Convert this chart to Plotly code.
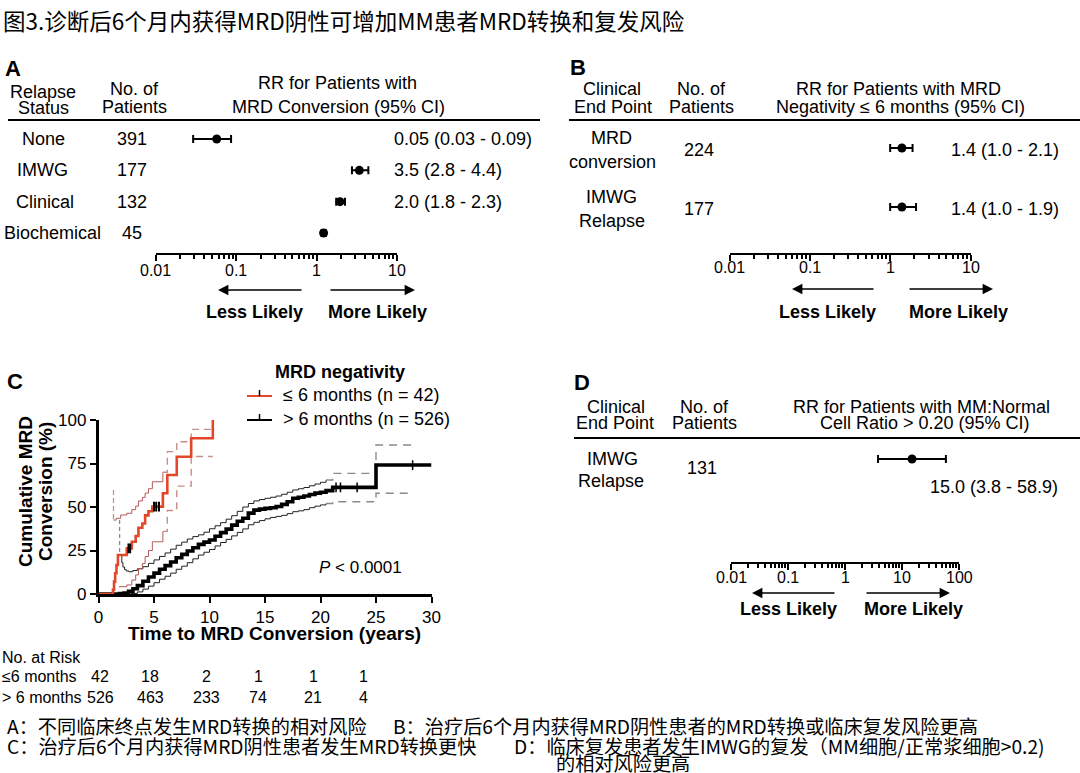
import math
import plotly.graph_objects as go

W, H = 1080, 773
FONT = "Liberation Sans, Arial, Helvetica, sans-serif"
CJK = "Noto Sans CJK SC, Noto Sans, sans-serif"

# ---------------- data ----------------
# Panel A: relapse status vs RR for MRD conversion
a_status = ["None", "IMWG", "Clinical", "Biochemical"]
a_n = [391, 177, 132, 45]
a_rr = [0.057, 3.4, 1.95, 1.22]
a_lo = [0.029, 2.75, 1.75, 1.15]
a_hi = [0.086, 4.4, 2.25, 1.30]
a_text = ["0.05 (0.03 - 0.09)", "3.5 (2.8 - 4.4)", "2.0 (1.8 - 2.3)", ""]

# Panel B: clinical end point, RR for MRD negativity <= 6 months
b_end = [["MRD", "conversion"], ["IMWG", "Relapse"]]
b_n = [224, 177]
b_rr = [1.4, 1.4]
b_lo = [1.0, 1.0]
b_hi = [1.9, 2.1]
b_text = ["1.4 (1.0 - 2.1)", "1.4 (1.0 - 1.9)"]

# Panel D: MM:Normal cell ratio > 0.20
d_end = [["IMWG", "Relapse"]]
d_n = [131]
d_rr = [15.0]
d_lo = [3.8]
d_hi = [58.9]
d_text = ["15.0 (3.8 - 58.9)"]

# Panel C: cumulative MRD conversion (Kaplan-Meier style steps), years / %
red_t = [0, 1.3, 1.4, 1.5, 1.62, 1.75, 2.55, 3.0, 3.35, 3.6, 3.95, 4.2, 4.5, 4.85, 5.8, 6.2, 7.05, 8.35, 10.3]
red_s = [0, 2.4, 7.1, 11.9, 16.7, 22.4, 26.2, 30.0, 33.3, 38.1, 40.5, 45.2, 47.6, 50.2, 57.9, 68.4, 78.9, 89.5, 100]
red_up_t = [1.35, 1.35, 1.6, 2.0, 2.55, 3.0, 3.35, 3.6, 3.95, 4.2, 4.5, 4.85, 5.8, 6.2, 7.05, 8.35, 10.3]
red_up_s = [59.8, 42.5, 43.5, 45.4, 46.4, 48.5, 50.5, 53.5, 55.5, 58.0, 60.5, 64.5, 70.0, 81.8, 87.5, 94.6, 94.6]
red_lo_t = [1.85, 2.55, 3.0, 3.35, 3.6, 3.95, 4.2, 4.5, 4.85, 5.8, 6.2, 7.05, 8.35, 10.3]
red_lo_s = [4.2, 5.2, 8.0, 11.0, 14.5, 17.5, 21.5, 25.0, 30.0, 36.0, 48.0, 62.0, 79.0, 79.0]
red_censor_t = [2.7, 2.85, 5.0, 5.2, 5.45]

black_t = [0, 1.9, 2.3, 2.7, 3.1, 3.5, 4.0, 4.5, 5.0, 5.5,
           6.0, 6.5, 7.0, 7.5, 8.0, 8.5, 9.0, 9.5, 10.0, 10.5,
           11.0, 11.5, 12.0, 12.5, 13.0, 13.5, 14.0, 14.5, 15.0, 15.5,
           16.0, 16.5, 17.0, 17.5, 18.0, 18.5, 19.0, 19.5, 20.0, 20.5,
           21.1, 25.0, 30.0]
black_s = [0, 0.2, 0.6, 1.5, 3.0, 4.8, 7.3, 9.8, 12.0, 14.2,
           16.3, 18.4, 20.8, 22.8, 24.7, 26.6, 28.5, 29.8, 31.0, 33.2,
           35.3, 37.3, 39.6, 41.8, 43.5, 46.5, 48.2, 48.8, 49.2, 49.6,
           50.3, 51.5, 53.0, 55.0, 55.6, 56.3, 57.2, 58.0, 58.5, 59.4,
           61.3, 74.1, 74.1]
bup_t = [1.9, 1.9, 2.1, 2.2, 2.35, 2.5, 2.75, 3.1, 3.5, 4.0,
         4.5, 5.0, 5.5, 6.0, 6.5, 7.0, 7.5, 8.0, 8.5, 9.0,
         9.5, 10.0, 10.5, 11.0, 11.5, 12.0, 12.5, 13.0, 13.5, 14.0,
         14.5, 15.0, 15.5, 16.0, 16.5, 17.0, 17.5, 18.0, 18.5, 19.0,
         19.5, 20.0, 20.5, 21.1, 25.0, 28.3]
bup_s = [42.5, 22.4, 18.0, 15.5, 14.0, 13.2, 12.8, 13.5, 14.5, 15.7,
         17.6, 19.6, 21.6, 23.6, 25.8, 28.0, 29.8, 31.6, 33.0, 34.0,
         35.5, 37.5, 39.2, 41.0, 43.0, 45.0, 47.5, 50.0, 52.0, 53.5,
         54.3, 55.0, 55.6, 56.3, 57.3, 58.5, 59.8, 60.5, 61.2, 62.2,
         63.2, 64.2, 65.5, 69.3, 85.6, 85.6]
blo_t = [2.9, 3.5, 4.0, 4.5, 5.0, 5.5, 6.0, 6.5, 7.0, 7.5,
         8.0, 8.5, 9.0, 9.5, 10.0, 10.5, 11.0, 11.5, 12.0, 12.5,
         13.0, 13.5, 14.0, 14.5, 15.0, 15.5, 16.0, 16.5, 17.0, 17.5,
         18.0, 18.5, 19.0, 19.5, 20.0, 20.5, 21.1, 25.0, 28.3]
blo_s = [0.3, 1.2, 2.8, 4.5, 6.5, 8.5, 10.2, 12.0, 14.2, 16.0,
         18.0, 20.2, 22.4, 24.0, 25.6, 27.6, 29.6, 31.4, 33.4, 35.4,
         37.4, 39.8, 41.2, 42.2, 43.2, 44.0, 44.6, 45.2, 46.2, 47.3,
         47.8, 48.5, 49.6, 50.5, 51.2, 52.0, 53.0, 57.9, 57.9]
black_censor_t = [21.4, 21.8, 23.3, 28.3]

risk_times = [0, 5, 10, 15, 20, 25]
risk_le6 = [42, 18, 2, 1, 1, 1]
risk_gt6 = [526, 463, 233, 74, 21, 4]

forest_ticks = [0.01, 0.1, 1, 10]
forest_ticks_d = [0.01, 0.1, 1, 10, 100]
km_xticks = [0, 5, 10, 15, 20, 25, 30]
km_yticks = [0, 25, 50, 75, 100]

title_text = "图3.诊断后6个月内获得MRD阴性可增加MM患者MRD转换和复发风险"
foot_lines = [
    ("A：不同临床终点发生MRD转换的相对风险", 6, 726),
    ("B：治疗后6个月内获得MRD阴性患者的MRD转换或临床复发风险更高", 392, 726),
    ("C：治疗后6个月内获得MRD阴性患者发生MRD转换更快", 6, 746),
    ("D：临床复发患者发生IMWG的复发（MM细胞/正常浆细胞>0.2)", 513, 746),
    ("的相对风险更高", 555, 763),
]

# ---------------- helpers ----------------
def px(x):
    return x / W


def py(y):
    return 1 - y / H


annotations = []
shapes = []


def text(x, y, s, size=18, bold=False, xanchor="center", yanchor="middle",
         family=FONT, yref="paper", xref="paper", color="black", **kw):
    if bold:
        s = "<b>" + s + "</b>"
    annotations.append(dict(
        x=px(x) if xref == "paper" else x, y=py(y) if yref == "paper" else y,
        xref=xref, yref=yref,
        text=s, showarrow=False, xanchor=xanchor, yanchor=yanchor,
        font=dict(family=family, size=size, color=color), borderpad=0, **kw))


def arrow(x_head, x_tail, y):
    annotations.append(dict(
        x=px(x_head), y=py(y), xref="paper", yref="paper", text="",
        showarrow=True, ax=x_tail - x_head, ay=0, axref="pixel", ayref="pixel",
        arrowhead=2, arrowsize=1.3, arrowwidth=1.6, arrowcolor="black"))


def hline(x0, x1, y, width=2, color="black"):
    shapes.append(dict(type="line", xref="paper", yref="paper",
                       x0=px(x0), x1=px(x1), y0=py(y), y1=py(y),
                       line=dict(color=color, width=width)))


def step_value(ts, ss, t):
    v = ss[0]
    for ti, si in zip(ts, ss):
        if ti <= t:
            v = si
    return v


def minor_vals(lo_exp, hi_exp):
    return [k * 10 ** e for e in range(lo_exp, hi_exp) for k in range(2, 10)]


fig = go.Figure()


def forest_trace(rr, lo, hi, xa, ya):
    fig.add_trace(go.Scatter(
        x=rr, y=list(range(len(rr))), mode="markers",
        marker=dict(color="black", size=9),
        error_x=dict(type="data", symmetric=False,
                     array=[h - r for h, r in zip(hi, rr)],
                     arrayminus=[r - l for r, l in zip(rr, lo)],
                     color="black", thickness=2, width=4),
        xaxis=xa, yaxis=ya, showlegend=False, hoverinfo="skip", cliponaxis=False))


def forest_xaxis(domain, ticks, anchor, xref, label_y):
    lo_e = round(math.log10(ticks[0]))
    hi_e = round(math.log10(ticks[-1]))
    for t in ticks:
        text(math.log10(t), label_y, "%g" % t, size=16, xref=xref)
    return dict(
        type="log", domain=domain, range=[lo_e, hi_e], anchor=anchor,
        tickvals=ticks, showticklabels=False,
        ticks="outside", ticklen=6, tickwidth=2, tickcolor="black",
        showline=True, linewidth=2, linecolor="black",
        showgrid=False, zeroline=False, automargin=False,
        minor=dict(tickvals=minor_vals(lo_e, hi_e), ticks="outside", ticklen=4,
                   tickwidth=1.5, tickcolor="black", showgrid=False),
        fixedrange=True)


def hidden_y(domain, rng, anchor):
    return dict(domain=domain, range=rng, visible=False, anchor=anchor,
                fixedrange=True, automargin=False)


# ---------------- Panel A ----------------
forest_trace(a_rr, a_lo, a_hi, "x", "y")
text(13, 68, "A", size=22, bold=True)
text(43, 92, "Relapse"); text(43, 108, "Status")
text(134, 89, "No. of"); text(134, 107, "Patients")
text(337, 83, "RR for Patients with"); text(338, 107, "MRD Conversion (95% CI)")
hline(8, 540, 120)
a_label_x = [43, 42, 45, 52]
for i, (lab, n, t) in enumerate(zip(a_status, a_n, a_text)):
    text(a_label_x[i], i, lab, yref="y")
    text(132, i, str(n), yref="y")
    if t:
        text(393, i, t, xanchor="left", yref="y")
shapes.append(dict(type="line", xref="x", yref="paper", x0=0, x1=0,
                   y0=py(253), y1=py(120), line=dict(color="black", width=2)))
arrow(218, 303, 290); arrow(415, 329, 290)
text(254, 312, "Less Likely", bold=True); text(377, 312, "More Likely", bold=True)

# ---------------- Panel B ----------------
forest_trace(b_rr, b_lo, b_hi, "x2", "y2")
text(578, 67, "B", size=22, bold=True)
text(612, 89, "Clinical"); text(613, 107, "End Point")
text(701, 89, "No. of"); text(701, 107, "Patients")
text(898, 89, "RR for Patients with MRD"); text(900, 107, "Negativity ≤ 6 months (95% CI)")
hline(569, 1080, 120)
for i, (lab, n, t) in enumerate(zip(b_end, b_n, b_text)):
    text(611, i, lab[0], yref="y2", yshift=10)
    text(612, i, lab[1], yref="y2", yshift=-14)
    text(699, i, str(n), yref="y2", yshift=-2)
    text(950, i, t, xanchor="left", yref="y2", yshift=-2)
shapes.append(dict(type="line", xref="x2", yref="paper", x0=0, x1=0,
                   y0=py(253), y1=py(120), line=dict(color="black", width=2)))
arrow(792, 875, 289); arrow(993, 908, 289)
text(827, 312, "Less Likely", bold=True); text(958, 312, "More Likely", bold=True)

# ---------------- Panel D ----------------
forest_trace(d_rr, d_lo, d_hi, "x4", "y4")
text(582, 383, "D", size=22, bold=True)
text(616, 407, "Clinical"); text(615, 423, "End Point")
text(704, 407, "No. of"); text(704, 423, "Patients")
text(921, 407, "RR for Patients with MM:Normal"); text(925, 423, "Cell Ratio > 0.20 (95% CI)")
hline(574, 1080, 438)
for i, (lab, n, t) in enumerate(zip(d_end, d_n, d_text)):
    text(613, i, lab[0], yref="y4")
    text(611, i, lab[1], yref="y4", yshift=-22)
    text(702, i, str(n), yref="y4", yshift=-9)
    text(929, i, t, xanchor="left", yref="y4", yshift=-28)
shapes.append(dict(type="line", xref="x4", yref="paper", x0=0, x1=0,
                   y0=py(562), y1=py(438), line=dict(color="black", width=2)))
arrow(752, 836, 593); arrow(950, 865, 593)
text(788, 609, "Less Likely", bold=True); text(913, 609, "More Likely", bold=True)

# ---------------- Panel C ----------------
RED = "#e2472a"
RED_CI = "#b25a57"
RED_CI_D = "#c98c8a"
BLK_CI_D = "#8a8a8a"


def km(x, y, color, width, dash="solid", xa="x3", ya="y3"):
    fig.add_trace(go.Scatter(x=x, y=y, mode="lines",
                             line=dict(color=color, width=width, dash=dash, shape="hv"),
                             xaxis=xa, yaxis=ya, showlegend=False, hoverinfo="skip"))


def split_idx(ts, t_split):
    return max(i for i, t in enumerate(ts) if t <= t_split)


# black CIs
k = split_idx(bup_t, 20.5)
km(bup_t[:2], bup_s[:2], BLK_CI_D, 1.3, "4px,3px")
km(bup_t[1:k + 1], bup_s[1:k + 1], "#222222", 1)
km(bup_t[k:], bup_s[k:], BLK_CI_D, 1.4, "8px,6px")
k = split_idx(blo_t, 20.5)
km(blo_t[:k + 1], blo_s[:k + 1], "#222222", 1)
km(blo_t[k:], blo_s[k:], BLK_CI_D, 1.4, "8px,6px")
# red CIs
k = split_idx(red_up_t, 5.8)
km(red_up_t[:2], red_up_s[:2], RED_CI_D, 1.3, "5px,3px")
km(red_up_t[1:k + 1], red_up_s[1:k + 1], RED_CI, 1)
km(red_up_t[k:], red_up_s[k:], RED_CI_D, 1.4, "7px,5px")
k = split_idx(red_lo_t, 5.8)
km(red_lo_t[:k + 1], red_lo_s[:k + 1], RED_CI, 1)
km(red_lo_t[k:], red_lo_s[k:], RED_CI_D, 1.4, "7px,5px")
# main curves
km(black_t, black_s, "black", 3.6)
km(red_t, red_s, RED, 2.6)
# censor marks
fig.add_trace(go.Scatter(x=red_censor_t, y=[step_value(red_t, red_s, t) for t in red_censor_t],
                         mode="markers", marker=dict(symbol="line-ns", size=7, line=dict(color="black", width=2)),
                         xaxis="x3", yaxis="y3", showlegend=False, hoverinfo="skip"))
fig.add_trace(go.Scatter(x=black_censor_t, y=[step_value(black_t, black_s, t) for t in black_censor_t],
                         mode="markers", marker=dict(symbol="line-ns", size=7, line=dict(color="black", width=1.5)),
                         xaxis="x3", yaxis="y3", showlegend=False, hoverinfo="skip"))

text(15, 382, "C", size=22, bold=True)
text(340, 372, "MRD negativity", bold=True)
for (yy, col, lab) in [(396, RED, "≤ 6 months (n = 42)"), (420, "black", "> 6 months (n = 526)")]:
    hline(247, 272, yy, color=col)
    shapes.append(dict(type="line", xref="paper", yref="paper", x0=px(259.5), x1=px(259.5),
                       y0=py(yy), y1=py(yy - 6), line=dict(color="black", width=1.5)))
    text(282, yy - 1, lab, xanchor="left")
text(360, 567, "<i>P</i> < 0.0001", size=17)
text(274, 633, "Time to MRD Conversion (years)", size=19, bold=True)
text(25, 492, "Cumulative MRD", size=19, bold=True, textangle=-90)
text(45, 492, "Conversion (%)", size=19, bold=True, textangle=-90)

# number at risk table
text(1, 657, "No. at Risk", size=16, xanchor="left")
text(1, 676, "≤6 months", size=16, xanchor="left")
text(1, 697, "> 6 months", size=16, xanchor="left")
risk_col_px = [100, 150, 206, 258, 313, 363]
for cx, a, b in zip(risk_col_px, risk_le6, risk_gt6):
    text(cx, 676, str(a), size=16)
    text(cx, 697, str(b), size=16)

# ---------------- title & footnotes ----------------
text(2, 20, title_text, size=22.5, xanchor="left", family=CJK)
for s, x, y in foot_lines:
    text(x, y, s, size=19.2, xanchor="left", family=CJK)

km_axis_common = dict(ticks="outside", ticklen=6, tickwidth=2, tickcolor="black",
                      showline=True, linewidth=2.5, linecolor="black", showgrid=False,
                      zeroline=False, automargin=False,
                      tickfont=dict(family=FONT, size=17, color="black"),
                      fixedrange=True)

fig.update_layout(
    width=W, height=H, margin=dict(l=0, r=0, t=0, b=0, pad=0, autoexpand=False),
    paper_bgcolor="white", plot_bgcolor="rgba(0,0,0,0)",
    font=dict(family=FONT, color="black"),
    showlegend=False,
    xaxis=forest_xaxis([px(156), px(397)], forest_ticks, "y", "x", 270),
    yaxis=hidden_y([py(253), py(120)], [3 + 20 / 31.3, -19 / 31.3], "x"),
    xaxis2=forest_xaxis([px(729.5), px(970.5)], forest_ticks, "y2", "x2", 268),
    yaxis2=hidden_y([py(253), py(120)], [1 + 46 / 59, -28 / 59], "x2"),
    xaxis4=forest_xaxis([px(731), px(959)], forest_ticks_d, "y4", "x4", 577),
    yaxis4=hidden_y([py(562), py(438)], [103 / 59, -21 / 59], "x4"),
    xaxis3=dict(domain=[px(98.5), px(431.5)], range=[0, 30], anchor="y3",
                tickvals=km_xticks, **km_axis_common),
    yaxis3=dict(domain=[py(594), py(420)], range=[0, 100], anchor="x3",
                tickvals=km_yticks, **km_axis_common),
    annotations=annotations, shapes=shapes,
)

fig.write_html("out.html", config={"displayModeBar": False},
               post_script="document.body.style.margin='0px';document.body.style.overflow='hidden';")
